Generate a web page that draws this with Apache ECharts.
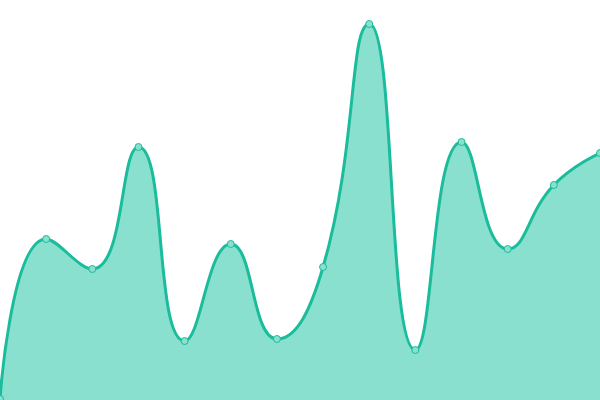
<!DOCTYPE html>
<html>
<head>
<meta charset="UTF-8">
<title></title>
<style>html,body{margin:0;padding:0;background:#fff}</style>
</head>
<body>
<div id="main" style="width:600px;height:400px"></div>
<script src="https://cdn.jsdelivr.net/npm/echarts@6/dist/echarts.min.js"></script>
<script>
var categories = ['1', '2', '3', '4', '5', '6', '7', '8', '9', '10', '11', '12', '13', '14'];
var values = [1, 161, 131, 253, 59, 156, 61, 133, 376, 50, 258, 151, 215, 247];

var myChart = echarts.init(document.getElementById('main'));
myChart.setOption({
	animation: false,
	grid: { left: 0, right: 0, top: 0, bottom: 0 },
	xAxis: { type: 'category', boundaryGap: false, data: categories, show: false },
	yAxis: { type: 'value', min: 0, max: 400, show: false },
	series: [{
		type: 'line',
		smooth: true,
		data: values,
		symbol: 'circle',
		symbolSize: 7,
		lineStyle: { color: '#1abc9c', width: 3 },
		itemStyle: { color: '#8ae0cf', borderColor: '#1abc9c', borderWidth: 1 },
		areaStyle: { color: '#8ae0cf', opacity: 1 }
	}]
});
</script>
</body>
</html>
